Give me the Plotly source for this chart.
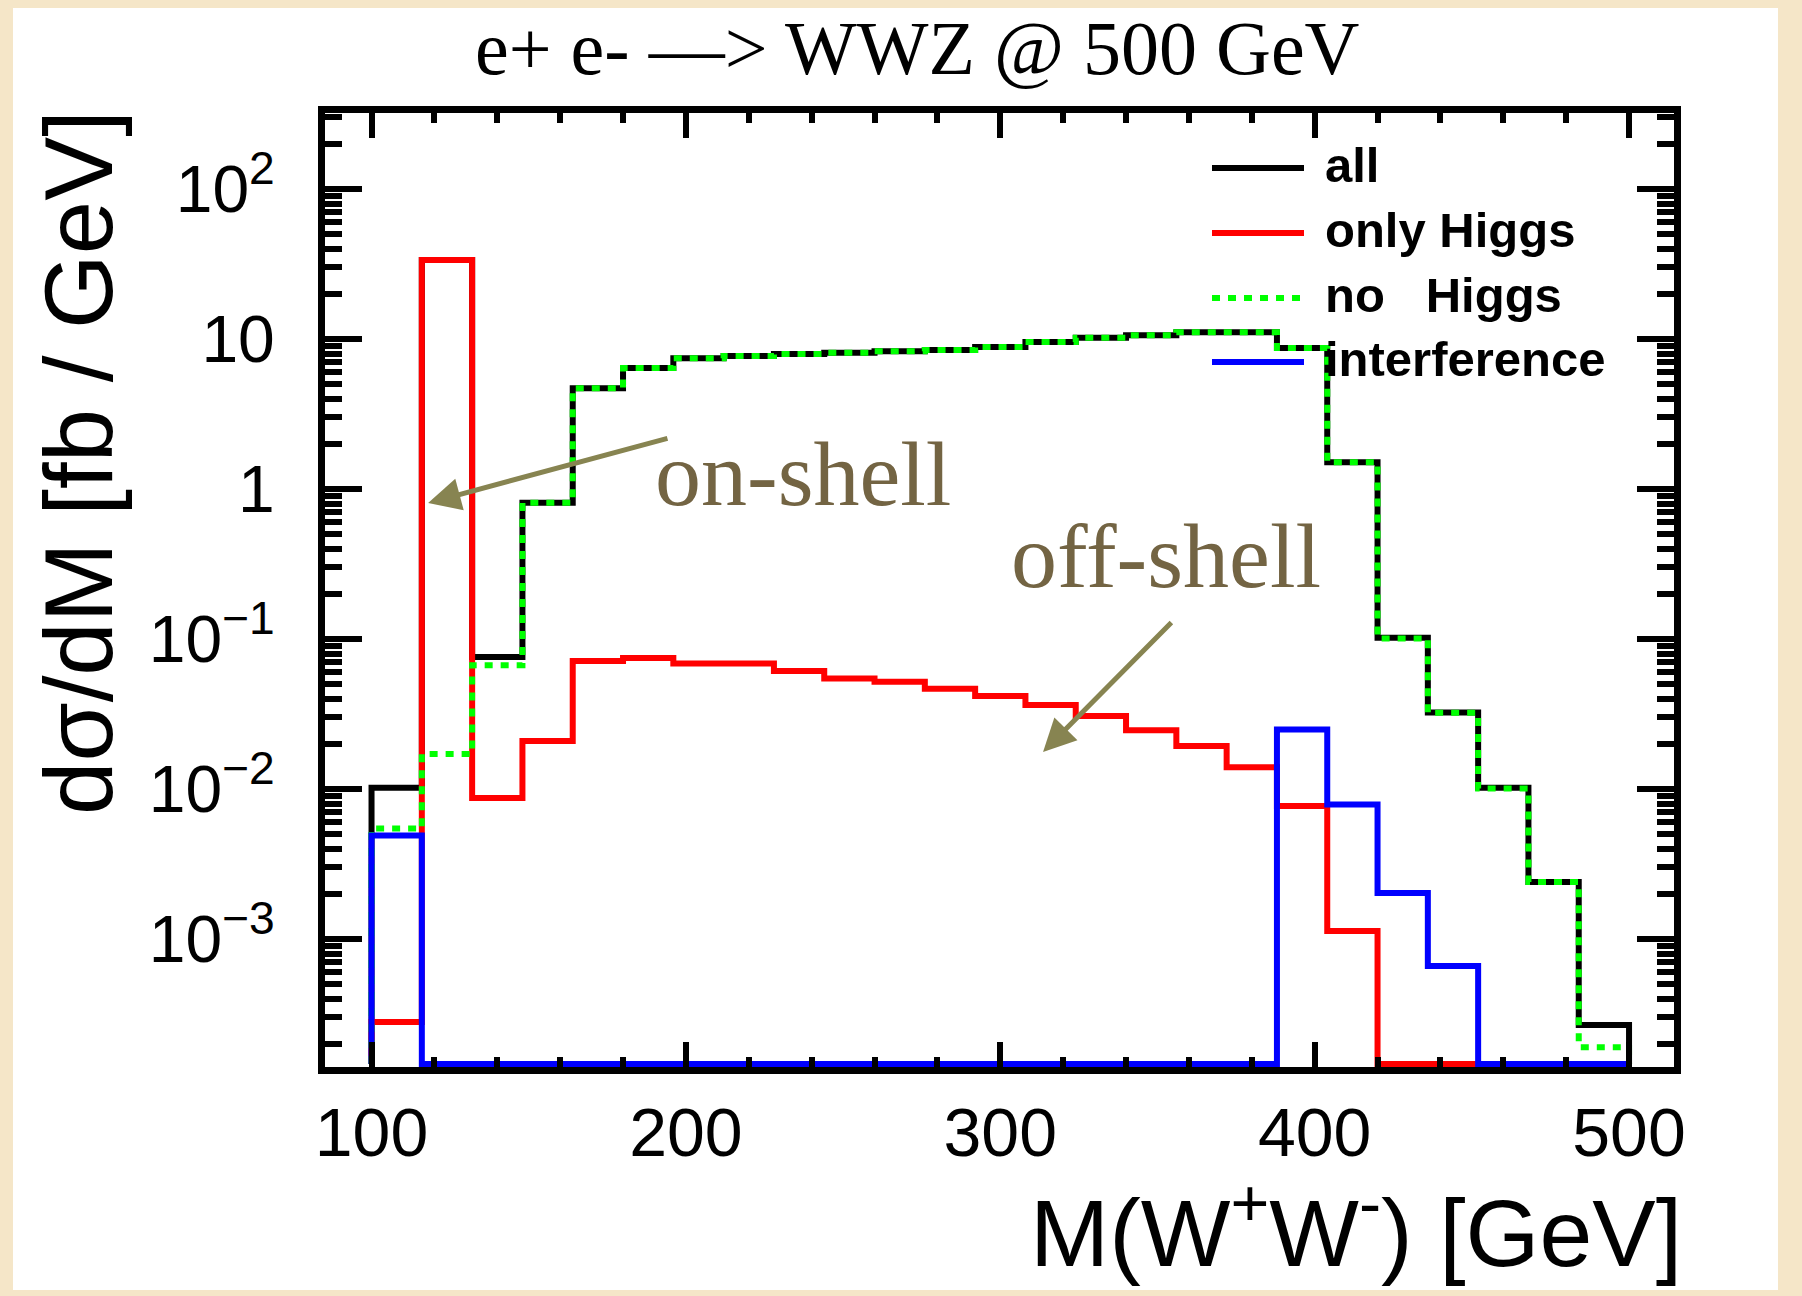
import plotly.graph_objects as go

# ---------------- data ----------------
bin_edges = [100, 116, 132, 148, 164, 180, 196, 212, 228, 244, 260, 276, 292,
             308, 324, 340, 356, 372, 388, 404, 420, 436, 452, 468, 484, 500]

all_vals = [0.0102, 33.6, 0.076, 0.81, 4.7, 6.4, 7.45, 7.7, 7.95, 8.1, 8.3, 8.45,
            8.85, 9.55, 10.2, 10.6, 11.1, 11.1, 8.7, 1.51, 0.102, 0.0324,
            0.0102, 0.0024, 0.000267]

only_higgs = [0.00028, 33.6, 0.0087, 0.0209, 0.0713, 0.0747, 0.0686, 0.0686,
              0.0612, 0.0545, 0.052, 0.0467, 0.0417, 0.0363, 0.0307, 0.0247,
              0.0194, 0.014, 0.0077, 0.00113, 0, 0, 0, 0, 0]

no_higgs = [0.00545, 0.0171, 0.067, 0.81, 4.7, 6.4, 7.45, 7.7, 7.95, 8.1, 8.3,
            8.45, 8.85, 9.55, 10.2, 10.6, 11.1, 11.1, 8.7, 1.51, 0.101, 0.0322,
            0.0101, 0.0024, 0.00019]

interference = [0.0049, 0, 0, 0, 0, 0, 0, 0, 0, 0, 0, 0, 0, 0, 0, 0, 0, 0,
                0.0249, 0.0079, 0.00203, 0.00066, 0, 0, 0]

series_names = ["all", "only Higgs", "no\u00a0\u00a0\u00a0Higgs", "interference"]

y_tickvals = [1e-3, 1e-2, 1e-1, 1, 10, 100]
y_ticktext = ["10<sup>\u22123</sup>", "10<sup>\u22122</sup>", "10<sup>\u22121</sup>",
              "1", "10", "10<sup>2</sup>"]
y_minor_vals = [m * 10.0 ** k for k in range(-4, 3) for m in range(2, 10)]

# ---------------- layout constants ----------------
W, H = 1802, 1296
ML, MR, MT, MB = 325, 128, 113, 229
PW, PH = W - ML - MR, H - MT - MB
X_RANGE = [85.2, 514.3]
Y_RANGE = [-3.853, 2.507]          # log10 units
FLOOR = 10 ** (Y_RANGE[0] + 3.0 / 150.0)


def px_to_paper_x(px):
    return (px - ML) / PW


def px_to_paper_y(py):
    return (H - MB - py) / PH


def step_xy(values):
    ys = [v if v > 0 else FLOOR for v in values]
    x = [bin_edges[0]] + bin_edges[:-1] + [bin_edges[-1]]
    y = [FLOOR] + ys + [FLOOR]
    return x, y


BLACK, RED, GREEN, BLUE = "#000000", "#ff0000", "#00ff00", "#0000ff"
LW = 6
GREEN_DASH = "8px,8px"

fig = go.Figure()
for vals, name, color, dash in [
    (all_vals, series_names[0], BLACK, "solid"),
    (only_higgs, series_names[1], RED, "solid"),
    (no_higgs, series_names[2], GREEN, GREEN_DASH),
    (interference, series_names[3], BLUE, "solid"),
]:
    x, y = step_xy(vals)
    fig.add_trace(go.Scatter(x=x, y=y, mode="lines", name=name,
                             line=dict(color=color, width=LW, dash=dash, shape="hv"),
                             showlegend=False, hoverinfo="skip"))

# ---------------- axes ----------------
fig.update_xaxes(range=X_RANGE, showline=True, linewidth=7, linecolor="black",
                 mirror="allticks", ticks="inside", ticklen=25, tickwidth=6,
                 tickcolor="black", tick0=0, dtick=100, showgrid=False,
                 zeroline=False, ticklabelstandoff=0,
                 tickfont=dict(family="Liberation Sans", size=68, color="black"),
                 minor=dict(ticks="inside", ticklen=10, tickwidth=6,
                            tickcolor="black", dtick=20, tick0=0, showgrid=False))
fig.update_yaxes(type="log", range=Y_RANGE, showline=True, linewidth=7,
                 linecolor="black", mirror="allticks", ticks="inside",
                 ticklen=37, tickwidth=6, tickcolor="black", tickmode="array",
                 tickvals=y_tickvals, ticktext=y_ticktext, showgrid=False,
                 zeroline=False, ticklabelstandoff=30,
                 tickfont=dict(family="Liberation Sans", size=66, color="black"),
                 minor=dict(ticks="inside", ticklen=17, tickwidth=6,
                            tickcolor="black", tickmode="array",
                            tickvals=y_minor_vals, showgrid=False))

annotations = []
shapes = []

# white page area on beige border
shapes.append(dict(type="rect", xref="paper", yref="paper", layer="below",
                   x0=px_to_paper_x(13), x1=px_to_paper_x(1778),
                   y0=px_to_paper_y(1290), y1=px_to_paper_y(8),
                   fillcolor="white", line=dict(width=0)))

# title
annotations.append(dict(text="e+ e- \u2014> WWZ @ 500 GeV", xref="paper", yref="paper",
                        x=px_to_paper_x(917), y=px_to_paper_y(48),
                        xanchor="center", yanchor="middle", showarrow=False,
                        font=dict(family="Liberation Serif", size=76, color="black")))
# y axis title
annotations.append(dict(text="d\u03c3/dM [fb / GeV]", xref="paper", yref="paper",
                        x=px_to_paper_x(79), y=px_to_paper_y(463), textangle=-90,
                        xanchor="center", yanchor="middle", showarrow=False,
                        font=dict(family="Liberation Sans", size=96, color="black")))
# x axis title
annotations.append(dict(text="M(W<sup>+</sup>W<sup>-</sup>) [GeV]", xref="paper",
                        yref="paper", x=px_to_paper_x(1684), y=px_to_paper_y(1226),
                        xanchor="right", yanchor="middle", showarrow=False,
                        font=dict(family="Liberation Sans", size=95, color="black")))

# legend (drawn by hand to match the long ROOT line samples)
leg_y_px = [168, 233, 298, 362]
leg_styles = [(BLACK, "solid"), (RED, "solid"), (GREEN, GREEN_DASH), (BLUE, "solid")]
for name, ypx, (color, dash) in zip(series_names, leg_y_px, leg_styles):
    yp = px_to_paper_y(ypx)
    shapes.append(dict(type="line", xref="paper", yref="paper",
                       x0=px_to_paper_x(1212), x1=px_to_paper_x(1304), y0=yp, y1=yp,
                       line=dict(color=color, width=LW, dash=dash)))
    annotations.append(dict(text="<b>%s</b>" % name, xref="paper", yref="paper",
                            x=px_to_paper_x(1323), y=px_to_paper_y(ypx - 3),
                            xanchor="left", yanchor="middle", showarrow=False,
                            font=dict(family="Liberation Sans", size=49, color="black")))

# on-shell / off-shell notes with arrows (data coordinates, y in log10)
NOTE_COLOR = "#736443"
ARROW_COLOR = "#878451"
on_text_xy = (237.2, 0.10)
on_head_xy = (118.0, -0.093)
on_tail_xy = (194.6, 0.34)
off_text_xy = (352.7, -0.447)
off_head_xy = (313.6, -1.753)
off_tail_xy = (354.9, -0.88)

for txt, txy in [("on-shell", on_text_xy), ("off-shell", off_text_xy)]:
    annotations.append(dict(text=txt, xref="x", yref="y", x=txy[0], y=txy[1],
                            xanchor="center", yanchor="middle", showarrow=False,
                            font=dict(family="Liberation Serif", size=92, color=NOTE_COLOR)))
for head, tail in [(on_head_xy, on_tail_xy), (off_head_xy, off_tail_xy)]:
    annotations.append(dict(text="", xref="x", yref="y", x=head[0], y=head[1],
                            axref="x", ayref="y", ax=tail[0], ay=tail[1],
                            showarrow=True, arrowhead=2, arrowsize=1.3,
                            arrowwidth=5, arrowcolor=ARROW_COLOR, standoff=0))

fig.update_layout(width=W, height=H, autosize=False,
                  margin=dict(l=ML, r=MR, t=MT, b=MB, pad=0),
                  paper_bgcolor="#f5e6c8", plot_bgcolor="white",
                  showlegend=False, annotations=annotations, shapes=shapes)

fig.write_html("out.html", config={"displayModeBar": False})
